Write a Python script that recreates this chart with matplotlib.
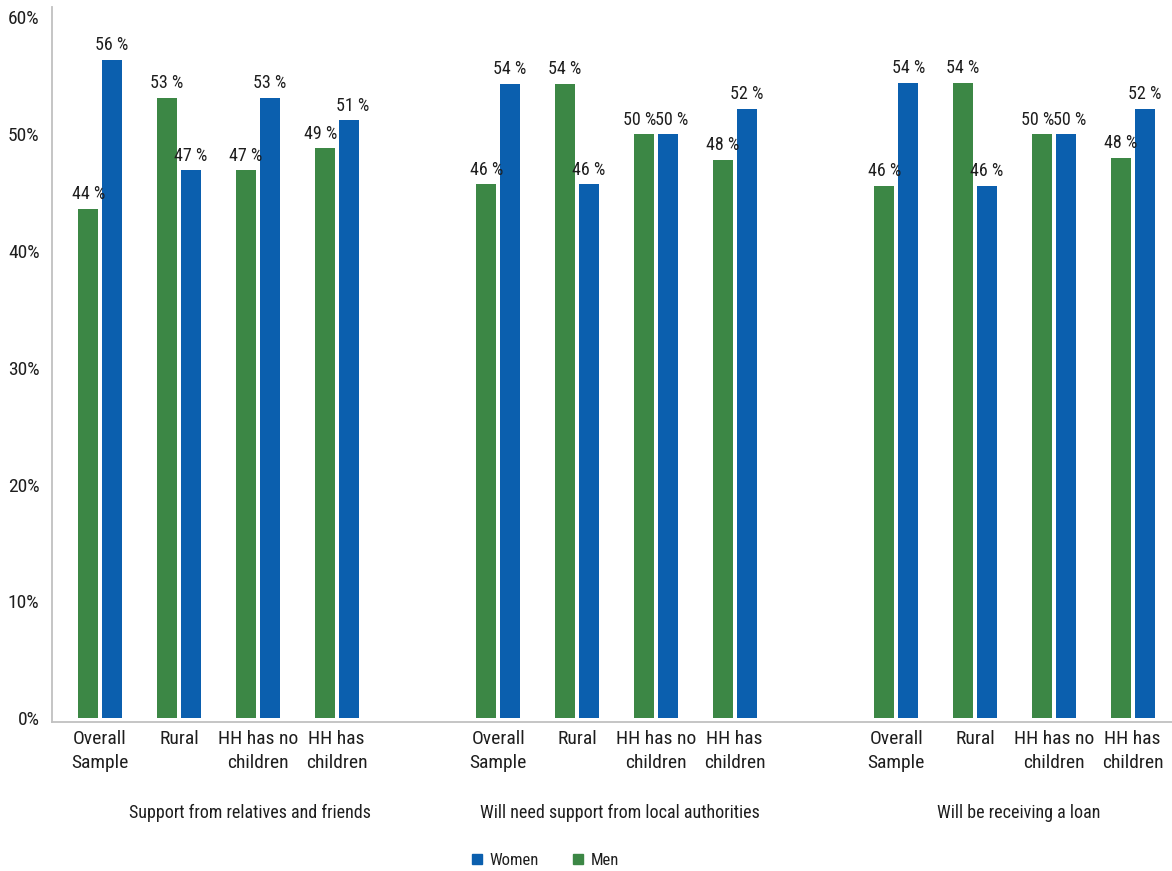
import numpy as np
from matplotlib import pyplot as plt
from matplotlib import font_manager
from matplotlib.lines import Line2D

# pick a narrow sans if one is available
installed = {f.name for f in font_manager.fontManager.ttflist}
family = 'DejaVu Sans'
for name in ['Roboto Condensed', 'Liberation Sans Narrow', 'Open Sans Condensed']:
    if name in installed:
        family = name
        break
plt.rcParams['font.family'] = [family, 'DejaVu Sans']

groups = ['Support from relatives and friends',
          'Will need support from local authorities',
          'Will be receiving a loan']
categories = ['Overall\nSample', 'Rural', 'HH has no\nchildren', 'HH has\nchildren']
men = [[43.6, 53.1, 46.9, 48.8],
       [45.7, 54.3, 50.0, 47.8],
       [45.6, 54.4, 50.0, 48.0]]
women = [[56.4, 46.9, 53.1, 51.2],
         [54.3, 45.7, 50.0, 52.2],
         [54.4, 45.6, 50.0, 52.2]]

GREEN = '#3c8745'
BLUE = '#0b5fae'
TEXT = '#1e1e1e'

fig = plt.figure(figsize=(11.72, 8.71), dpi=100)
ax = fig.add_axes([0.0444, 0.1716, 0.9556, 0.8204])

gap = 1.05
width = 0.254
offset = 0.152

xs = []
for g in range(len(groups)):
    pos = g * (4 + gap) + np.arange(len(categories))
    xs.extend(pos)
    mb = ax.bar(pos - offset, men[g], width, color=GREEN)
    wb = ax.bar(pos + offset, women[g], width, color=BLUE)
    for i in range(len(categories)):
        # push the two labels apart when the bars are about the same height
        close = abs(men[g][i] - women[g][i]) < 3
        for b, dx in ((mb[i], -3 if close else 0), (wb[i], 3 if close else 0)):
            h = b.get_height()
            ax.annotate(f'{h:.0f} %', (b.get_x() + b.get_width() / 2, h),
                        xytext=(dx, 4), textcoords='offset points',
                        ha='center', va='bottom', fontsize=13, color=TEXT)
    # group caption under the category labels
    cx = pos.mean() + (0.4 if g == 0 else 0.05)
    ax.text(cx, -8.15, groups[g], ha='center', va='center',
            fontsize=13, color=TEXT)

ax.set_xticks(xs)
ax.set_xticklabels(categories * len(groups), fontsize=14, color=TEXT,
                   linespacing=1.45)
ax.set_xlim(-0.61, 13.6)
ax.set_ylim(-0.3, 60.9)
ax.set_yticks(np.arange(0, 61, 10))
ax.set_yticklabels([f'{v}%' for v in range(0, 61, 10)], fontsize=14, color=TEXT)
ax.tick_params(axis='both', length=0)
ax.tick_params(axis='y', pad=9)
ax.tick_params(axis='x', pad=6)

for side in ['top', 'right']:
    ax.spines[side].set_visible(False)
for side in ['left', 'bottom']:
    ax.spines[side].set_color('#c0c0c0')
    ax.spines[side].set_linewidth(1.3)

handles = [Line2D([], [], marker='s', linestyle='none', color=BLUE, markersize=7),
           Line2D([], [], marker='s', linestyle='none', color=GREEN, markersize=7)]
fig.legend(handles, ['Women', 'Men'], loc='center',
           bbox_to_anchor=(545 / 1172, 1 - 860 / 871), ncol=2, frameon=False,
           fontsize=12, handlelength=0.7, handletextpad=0.4, columnspacing=2.0,
           labelcolor=TEXT)

fig.savefig('out.png', dpi=100)
